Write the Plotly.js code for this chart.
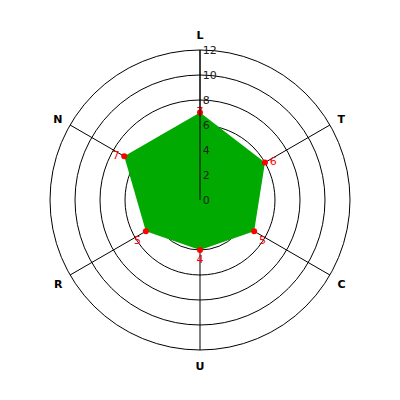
<!DOCTYPE html>
<html><head><meta charset="utf-8">
<script src="https://cdn.plot.ly/plotly-3.0.1.min.js"></script>
<style>html,body{margin:0;padding:0;background:#fff}#c{width:400px;height:400px}</style>
</head><body><div id="c"></div>
<script>
const categories = ['L','T','C','U','R','N'];
const values = [7,6,5,4,5,7];
const labelPos = ['middle center','middle right','bottom right','bottom center','bottom left','middle left'];
const radialTicks = [0,2,4,6,8,10,12];

const closedCats = categories.concat([categories[0]]);
const closedVals = values.concat([values[0]]);

const traces = [
  {type:'scatterpolar', r: closedVals, theta: closedCats, fill:'toself', fillcolor:'#00aa00',
   mode:'none', line:{width:0, color:'#00aa00'}, hoverinfo:'skip'},
  {type:'scatterpolar', r: values, theta: categories, mode:'markers+text',
   marker:{color:'#ff0000', size:6}, text: values.map(String), textposition: labelPos,
   textfont:{color:'#ff0000', size:11, family:'DejaVu Sans'}}
];

const layout = {
  width:400, height:400, showlegend:false,
  margin:{l:50,r:50,t:50,b:50},
  paper_bgcolor:'#fff',
  font:{family:'DejaVu Sans', size:10, color:'#000'},
  polar:{
    bgcolor:'#fff',
    domain:{x:[0,1], y:[0,1]},
    radialaxis:{range:[0,12], tickvals:radialTicks, ticktext:radialTicks.map(String), angle:90, tickangle:90,
      side:'clockwise',
      showline:true, linecolor:'#000', linewidth:1, gridcolor:'#000', gridwidth:1, ticks:'',
      tickfont:{size:11, color:'#222'}},
    angularaxis:{direction:'clockwise', rotation:90, showline:true, linecolor:'#000', linewidth:1,
      gridcolor:'#000', gridwidth:1, ticks:'outside', ticklen:6, tickcolor:'rgba(0,0,0,0)',
      tickfont:{size:11, color:'#000', weight:'bold'}}
  }
};
Plotly.newPlot('c', traces, layout, {staticPlot:true});
</script></body></html>
